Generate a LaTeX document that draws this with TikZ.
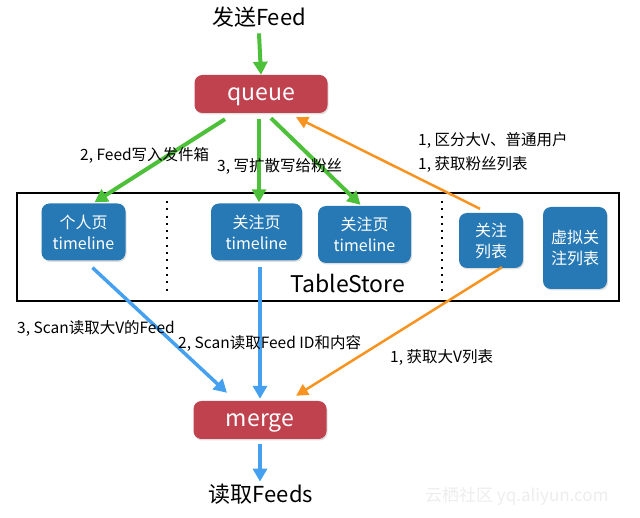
\documentclass[tikz,border=0pt]{standalone}
\usepackage{fontspec}
\setmainfont{Noto Sans CJK SC}
\usetikzlibrary{arrows.meta,calc,shadows}
\definecolor{qred}{HTML}{C1424F}
\definecolor{tblue}{HTML}{2779B5}
\definecolor{agreen}{HTML}{4DC03A}
\definecolor{ablue}{HTML}{45A1F0}
\definecolor{aorange}{HTML}{F7931E}
\tikzset{
  redbox/.style={draw=none,fill=qred,rounded corners=8pt,text=white,
    minimum width=133pt,minimum height=38pt,inner sep=0pt,text height=16pt,text depth=2pt,
    font=\fontsize{23}{26}\selectfont,drop shadow={opacity=0.25,shadow xshift=1pt,shadow yshift=-1.5pt}},
  bluebox/.style={draw=none,fill=tblue,rounded corners=8pt,text=white,align=center,
    inner sep=0pt,font=\fontsize{16}{21}\selectfont,
    drop shadow={opacity=0.25,shadow xshift=1pt,shadow yshift=-1.5pt}},
  lbl/.style={anchor=west,inner sep=0pt,font=\fontsize{15.5}{18}\selectfont},
  bigtxt/.style={inner sep=0pt,font=\fontsize{22}{26}\selectfont},
  dotsep/.style={line width=2pt,dash pattern=on 2pt off 5.3pt},
  garrow/.style={draw=agreen,line width=4pt,-{Triangle[length=13pt,width=14pt]}},
  barrow/.style={draw=ablue,line width=3.5pt,-{Triangle[length=13pt,width=14pt]}},
  oarrow/.style={draw=aorange,line width=2.5pt,-{Triangle[length=12pt,width=12pt]}},
}
\begin{document}
\begin{tikzpicture}[x=1pt,y=-1pt]
\useasboundingbox (0,0) rectangle (640,518);
% TableStore container
\node[draw=black,line width=1.2pt,fill=white,minimum width=602pt,minimum height=108pt,inner sep=0pt] (ts) at (318,247) {};
\draw[dotsep] (167,201) -- (167,294);
\draw[dotsep] (442,201) -- (442,294);
\node[bigtxt,font=\fontsize{23}{26}\selectfont] (tstxt) at (348,283) {TableStore};

\node[bigtxt] (send) at (259,17) {发送Feed};
\node[redbox] (queue) at (261,94) {queue};
\node[redbox] (merge) at (260,420) {merge};
\node[bigtxt] (read) at (261,494) {读取Feeds};

\node[bluebox,minimum width=84pt,minimum height=57pt] (p1) at (83.5,232) {个人页\\timeline};
\node[bluebox,minimum width=91pt,minimum height=57pt] (p2) at (256.5,232) {关注页\\timeline};
\node[bluebox,minimum width=93pt,minimum height=57pt] (p3) at (364.5,234.5) {关注页\\timeline};
\node[bluebox,minimum width=64pt,minimum height=55pt] (list) at (491,240.5) {关注\\列表};
\node[bluebox,minimum width=64pt,minimum height=82pt] (vlist) at (575,248) {虚拟关\\注列表};

% arrows
\draw[garrow] ($(send.south)+(0,6)$) -- (queue.north);
\draw[garrow] ($(queue.south)+(-36,6)$) -- ($(p1.north)+(11,-1)$);
\draw[garrow] ($(queue.south)+(-2,6)$) -- ($(p2.north)+(2.5,-1)$);
\draw[garrow] ($(queue.south)+(10,5)$) -- ($(p3.north)+(-4,-1)$);
\draw[oarrow] ($(list.north)+(-11,-4)$) -- ($(queue.south)+(35,4)$);

\draw[barrow] ($(p1.south)+(9,7)$) -- ($(merge.north)+(-33,-8)$);
\draw[barrow] ($(p2.south)+(3.5,6)$) -- ($(merge.north)+(0,-2)$);
\draw[oarrow] ($(list.south)+(11,-1)$) -- ($(merge.north)+(36,-5)$);
\draw[barrow] ($(merge.south)+(0,5)$) -- ($(read.north)+(-1,-2)$);

% labels
\node[lbl] (l1) at (80,155) {2, Feed写入发件箱};
\node[lbl] (l2) at (217,166) {3, 写扩散写给粉丝};
\node[lbl] (l3) at (418,140) {1, 区分大V、普通用户};
\node[lbl] (l4) at (418,164) {1, 获取粉丝列表};
\node[lbl] (l5) at (17,328) {3, Scan读取大V的Feed};
\node[lbl] (l6) at (178,343) {2, Scan读取Feed ID和内容};
\node[lbl] (l7) at (390,357) {1, 获取大V列表};
\node[lbl,text=black!7,font=\fontsize{17}{20}\selectfont] (wm) at (425,496) {云栖社区 yq.aliyun.com};
\end{tikzpicture}
\end{document}
